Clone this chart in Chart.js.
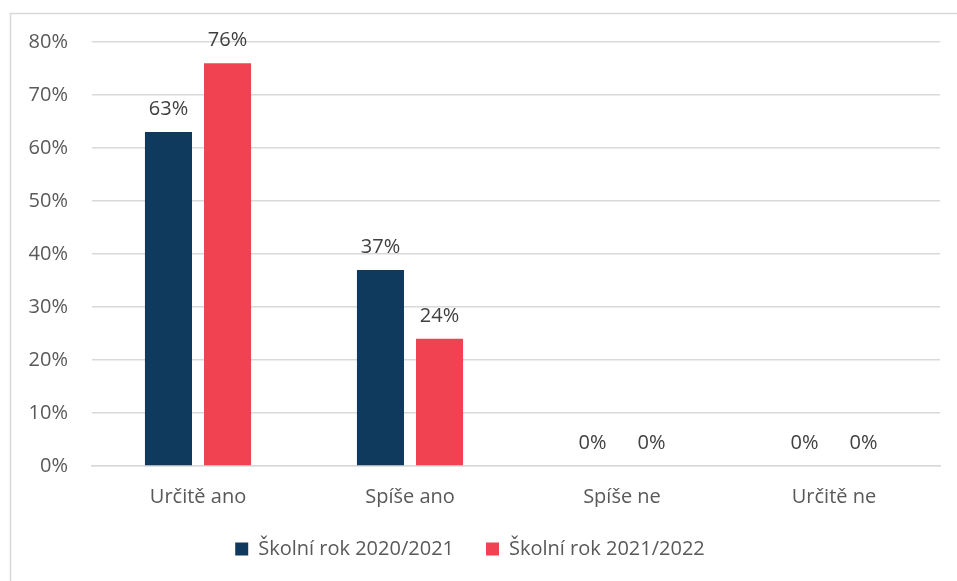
<!DOCTYPE html>
<html><head><meta charset="utf-8">
<script src="https://cdn.jsdelivr.net/npm/chart.js@4"></script>
<style>html,body{margin:0;padding:0;background:#fff}#wrap{width:957px;height:581px}</style>
</head><body><div id="wrap"><canvas id="c" width="957" height="581"></canvas></div>
<script>
const categories = ["Určitě ano", "Spíše ano", "Spíše ne", "Určitě ne"];
const series2021 = [63, 37, 0, 0];
const series2022 = [76, 24, 0, 0];
const seriesNames = ["Školní rok 2020/2021", "Školní rok 2021/2022"];
const yTicks = [0, 10, 20, 30, 40, 50, 60, 70, 80];

const FONT = "'Open Sans', sans-serif";

const borderPlugin = {
  id: 'border',
  beforeDraw(chart) {
    const ctx = chart.ctx;
    ctx.save();
    ctx.fillStyle = '#fff';
    ctx.fillRect(0, 0, chart.width, chart.height);
    ctx.strokeStyle = '#d9d9d9';
    ctx.lineWidth = 1.5;
    ctx.strokeRect(10.5, 13.5, chart.width + 20, chart.height + 20);
    ctx.restore();
  }
};

const labelPlugin = {
  id: 'vals',
  afterDatasetsDraw(chart) {
    const ctx = chart.ctx;
    ctx.save();
    ctx.font = "20px " + FONT;
    ctx.fillStyle = '#404040';
    ctx.textAlign = 'center';
    ctx.textBaseline = 'bottom';
    chart.data.datasets.forEach((ds, i) => {
      chart.getDatasetMeta(i).data.forEach((bar, j) => {
        ctx.fillText(ds.data[j] + '%', bar.x, bar.y - 13);
      });
    });
    ctx.restore();
  }
};

new Chart(document.getElementById('c'), {
  type: 'bar',
  data: {
    labels: categories,
    datasets: [
      { label: seriesNames[0], data: series2021, backgroundColor: '#0f3a5d', categoryPercentage: 0.557, barPercentage: 0.797 },
      { label: seriesNames[1], data: series2022, backgroundColor: '#f04250', categoryPercentage: 0.557, barPercentage: 0.797 }
    ]
  },
  options: {
    responsive: false,
    animation: false,
    layout: { padding: { top: 42, right: 17, left: 0, bottom: 12 } },
    plugins: {
      legend: {
        position: 'bottom',
        maxHeight: 75,
        labels: { font: { family: FONT, size: 20 }, color: '#595959', boxWidth: 13, boxHeight: 13, padding: 32 }
      },
      tooltip: { enabled: false }
    },
    scales: {
      x: {
        grid: { display: false, drawTicks: false },
        border: { display: true, color: '#d9d9d9', width: 1.5 },
        ticks: { font: { family: FONT, size: 20 }, color: '#595959', padding: 19 },
        afterFit(s) { s.height = 41; }
      },
      y: {
        min: 0, max: 80,
        afterBuildTicks(s) { s.ticks = yTicks.map(v => ({ value: v })); },
        grid: { color: '#d9d9d9', lineWidth: 1.5, drawTicks: false },
        border: { display: false },
        ticks: { font: { family: FONT, size: 20 }, color: '#595959', padding: 24, callback: v => v + '%' },
        afterFit(s) { s.width = 92; }
      }
    }
  },
  plugins: [borderPlugin, labelPlugin]
});
</script></body></html>
